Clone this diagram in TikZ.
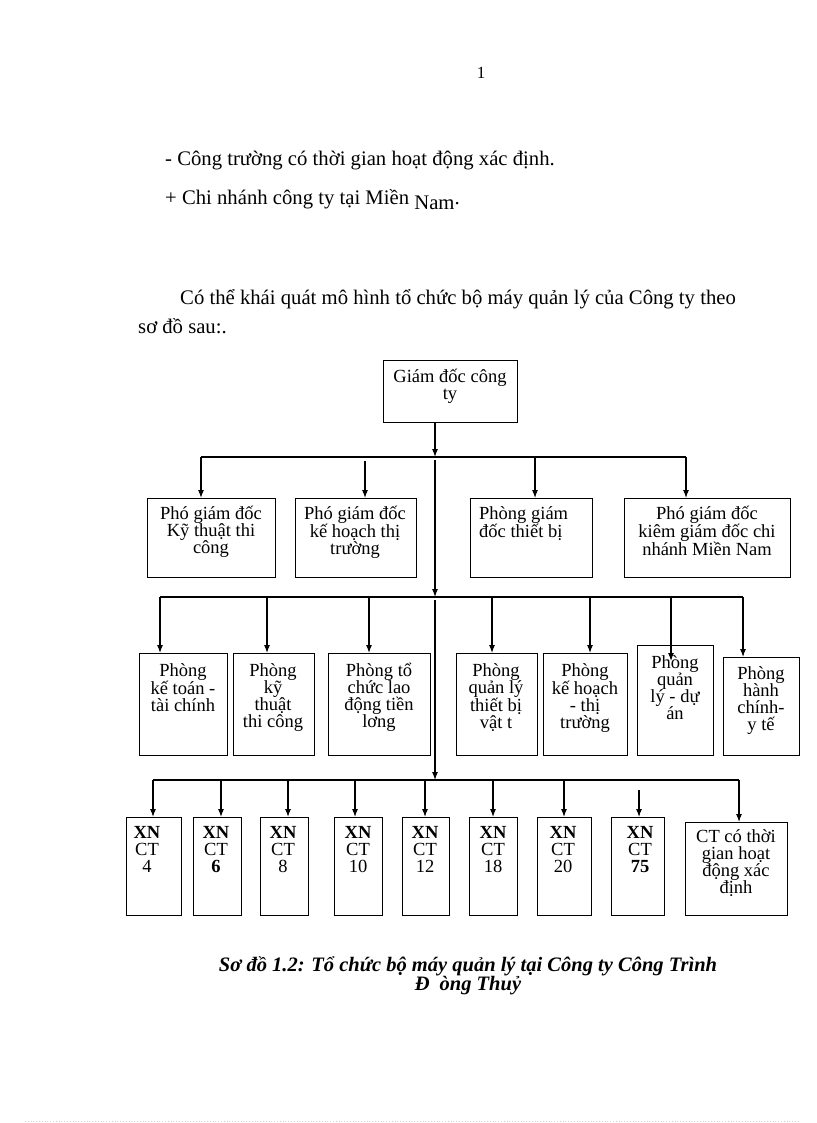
\documentclass[tikz,border=0pt]{standalone}
\usepackage{fontspec}
\setmainfont{Liberation Serif}
\usetikzlibrary{arrows.meta}
\begin{document}
\begin{tikzpicture}[x=1pt,y=-1pt,
  box/.style={draw=black, line width=1.1pt, anchor=north west, inner sep=0pt},
  txt/.style={font=\fontsize{18.5}{17}\selectfont, align=center, inner sep=0pt, anchor=north},
  arr/.style={line width=1.1pt, -{Latex[length=8pt,width=6pt]}},
  bus/.style={line width=1.3pt},
  body/.style={font=\fontsize{20.7}{23}\selectfont, inner sep=0pt, anchor=base west}]
\useasboundingbox (0,0) rectangle (816,1123);
\newcommand\boxat[5]{\node[box, minimum width={(#4-#2)*1pt}, minimum height={(#5-#3)*1pt}] (#1) at (#2,#3) {};}
\newcommand\fl{\rule{0pt}{18pt}}
% header text
\node[font=\fontsize{17}{20}\selectfont, inner sep=0pt, anchor=base] (pg) at (481,79) {1};
\node[body] (t1) at (165,166) {- Công trường có thời gian hoạt động xác định.};
\node[body] (t2) at (165,205) {+ Chi nhánh công ty tại Miền \raisebox{-5pt}{Nam}.};
\node[body] (t3) at (180,304) {Có thể khái quát mô hình tổ chức bộ máy quản lý của Công ty theo};
\node[body] (t4) at (138,333) {sơ đồ sau:.};
% top box
\boxat{g}{383}{360}{517}{422}
\node[txt] (gt) at (450,364) {\fl Giám đốc công\\ty};
% row 1
\boxat{p1}{147}{498}{275}{577}
\boxat{p2}{295}{498}{416}{577}
\boxat{p3}{470}{498}{592}{577}
\boxat{p4}{624}{498}{790}{577}
\node[txt] (p1t) at (211,501) {\fl Phó giám đốc\\Kỹ thuật thi\\công};
\node[txt] (p2t) at (355,501) {\fl Phó giám đốc\\kế hoạch thị\\trường};
\node[txt, align=left, anchor=north west] (p3t) at (479,501) {\fl Phòng giám\\đốc thiết bị};
\node[txt] (p4t) at (707,501) {\fl Phó giám đốc\\kiêm giám đốc chi\\nhánh Miền Nam};
% row 2
\boxat{r1}{139}{653}{227}{755}
\boxat{r2}{233}{653}{314}{755}
\boxat{r3}{328}{653}{430}{755}
\boxat{r4}{456}{653}{537}{755}
\boxat{r5}{543}{653}{627}{755}
\boxat{r6}{637}{645}{713}{755}
\boxat{r7}{723}{657}{799}{755}
\node[txt] (r1t) at (183,658) {\fl Phòng\\kế toán -\\tài chính};
\node[txt] (r2t) at (273,658) {\fl Phòng\\kỹ\\thuật\\thi công};
\node[txt] (r3t) at (379,658) {\fl Phòng tổ\\chức lao\\động tiền\\lơng};
\node[txt] (r4t) at (496,658) {\fl Phòng\\quản lý\\thiết bị\\vật t};
\node[txt] (r5t) at (585,658) {\fl Phòng\\kế hoạch\\- thị\\trường};
\node[txt] (r6t) at (675,650) {\fl Phòng\\quản\\lý - dự\\án};
\node[txt] (r7t) at (761,661) {\fl Phòng\\hành\\chính-\\y tế};
% row 3
\boxat{c1}{126}{817}{181}{915}
\boxat{c2}{193}{817}{241}{915}
\boxat{c3}{260}{817}{308}{915}
\boxat{c4}{334}{817}{382}{915}
\boxat{c5}{402}{817}{449}{915}
\boxat{c6}{469}{817}{517}{915}
\boxat{c7}{537}{817}{591}{915}
\boxat{c8}{611}{817}{664}{915}
\boxat{c9}{685}{822}{787}{915}
\node[txt] (c1t) at (147,820) {\fl\textbf{XN}\\CT\\4};
\node[txt] (c2t) at (216,820) {\fl\textbf{XN}\\CT\\\textbf{6}};
\node[txt] (c3t) at (283,820) {\fl\textbf{XN}\\CT\\8};
\node[txt] (c4t) at (358,820) {\fl\textbf{XN}\\CT\\10};
\node[txt] (c5t) at (425,820) {\fl\textbf{XN}\\CT\\12};
\node[txt] (c6t) at (493,820) {\fl\textbf{XN}\\CT\\18};
\node[txt] (c7t) at (563,820) {\fl\textbf{XN}\\CT\\20};
\node[txt] (c8t) at (640,820) {\fl\textbf{XN}\\CT\\\textbf{75}};
\node[txt] (c9t) at (736,824) {\fl CT có thời\\gian hoạt\\động xác\\định};
% spine and buses
\coordinate (sp) at (435,0);
\coordinate (h1l) at (201,457); \coordinate (h1r) at (686,457);
\coordinate (h2l) at (160,597); \coordinate (h2r) at (743,597);
\coordinate (h3l) at (153,780); \coordinate (h3r) at (739,780);
\coordinate (s1) at (435,460); \coordinate (s2) at (435,600);
\draw[arr] (g.south -| sp) -- (sp |- h1l);
\draw[arr] (s1) -- (sp |- h2l);
\draw[arr] (s2) -- (sp |- h3l);
\draw[bus] (h1l) -- (h1r);
\draw[bus] (h2l) -- (h2r);
\draw[bus] (h3l) -- (h3r);
% row 1 arrows
\coordinate (a2) at (365,461); \coordinate (a3) at (535,457);
\draw[arr] (h1l) -- (h1l |- p1.north);
\draw[arr] (a2) -- (a2 |- p2.north);
\draw[arr] (a3) -- (a3 |- p3.north);
\draw[arr] (h1r) -- (h1r |- p4.north);
% row 2 arrows
\coordinate (b2) at (267,597); \coordinate (b3) at (369,597);
\coordinate (b4) at (492,597); \coordinate (b5) at (590,597);
\coordinate (b6) at (671,597); \coordinate (b6e) at (671,661);
\draw[arr] (h2l) -- (h2l |- r1.north);
\draw[arr] (b2) -- (b2 |- r2.north);
\draw[arr] (b3) -- (b3 |- r3.north);
\draw[arr] (b4) -- (b4 |- r4.north);
\draw[arr] (b5) -- (b5 |- r5.north);
\draw[arr] (b6) -- (b6e);
\draw[arr] (h2r) -- (h2r |- r7.north);
% row 3 arrows
\coordinate (d2) at (221,780); \coordinate (d3) at (288,780);
\coordinate (d4) at (355,780); \coordinate (d5) at (425,780);
\coordinate (d6) at (493,780); \coordinate (d7) at (564,780);
\coordinate (d8) at (639,790);
\draw[arr] (h3l) -- (h3l |- c1.north);
\draw[arr] (d2) -- (d2 |- c2.north);
\draw[arr] (d3) -- (d3 |- c3.north);
\draw[arr] (d4) -- (d4 |- c4.north);
\draw[arr] (d5) -- (d5 |- c5.north);
\draw[arr] (d6) -- (d6 |- c6.north);
\draw[arr] (d7) -- (d7 |- c7.north);
\draw[arr] (d8) -- (d8 |- c8.north);
\draw[arr] (h3r) -- (h3r |- c9.north);
% caption
\node[font=\fontsize{20.5}{17}\selectfont\bfseries\itshape, align=center, inner sep=0pt, anchor=north] (cap) at (468,951) {\rule{0pt}{20pt}Sơ đồ 1.2: Tổ chức bộ máy quản lý tại Công ty Công Trình\\Đ\hspace{10pt}òng Thuỷ};
% faint bottom rule
\coordinate (fl) at (25,1121); \coordinate (fr) at (800,1121);
\draw[gray!35, dotted, line width=0.8pt] (fl) -- (fr);
\end{tikzpicture}
\end{document}
